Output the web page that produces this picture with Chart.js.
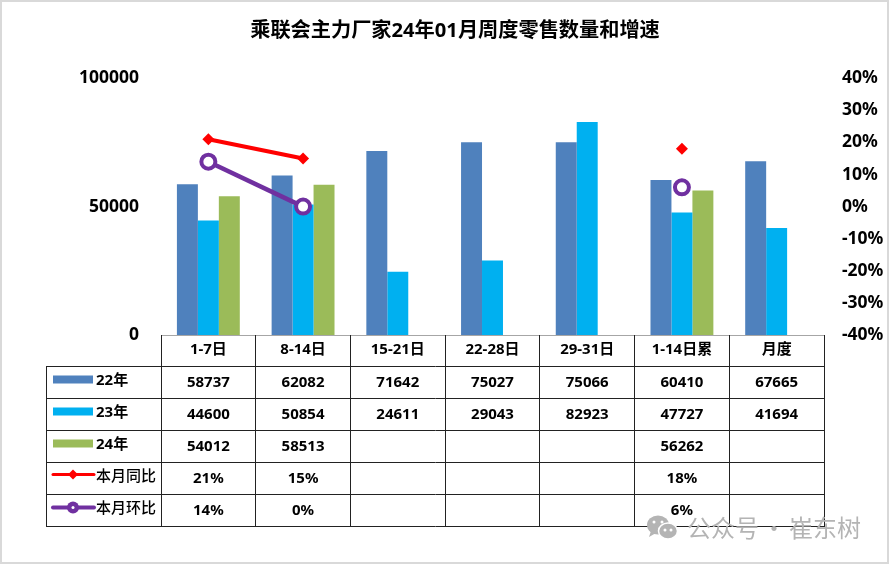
<!DOCTYPE html>
<html>
<head>
<meta charset="utf-8">
<style>
  html, body { margin: 0; padding: 0; background: #fff; }
  #wrap { position: relative; width: 889px; height: 564px; }
  canvas { display: block; }
</style>
<script src="https://cdn.jsdelivr.net/npm/chart.js@4"></script>
</head>
<body>
<div id="wrap"><canvas id="c" width="889" height="564"></canvas></div>
<script>
"use strict";

var categories = ["1-7日", "8-14日", "15-21日", "22-28日", "29-31日", "1-14日累", "月度"];
var sales22 = [58737, 62082, 71642, 75027, 75066, 60410, 67665];
var sales23 = [44600, 50854, 24611, 29043, 82923, 47727, 41694];
var sales24 = [54012, 58513, null, null, null, 56262, null];
var yoy = [21, 15, null, null, null, 18, null];
var mom = [14, 0, null, null, null, 6, null];
var leftTicks = [0, 50000, 100000];
var seriesNames = ["22年", "23年", "24年", "本月同比", "本月环比"];

var FONT = '"Noto Sans", "Noto Sans CJK SC", sans-serif';
var BLUE = "#4f81bd", CYAN = "#00b0f0", GREEN = "#9bbb59", RED = "#ff0000", PURPLE = "#7030a0";

function pct(v) { return v === null ? "" : v + "%"; }
function num(v) { return v === null ? "" : String(v); }

// table under the plot, columns follow the category axis
var tablePlugin = {
  id: "dataTable",
  afterDraw: function (chart) {
    var ctx = chart.ctx, x = chart.scales.x;
    var left = 46, top = 366, rowH = 32, colW = (x.right - x.left) / categories.length;
    var rows = [sales22.map(num), sales23.map(num), sales24.map(num), yoy.map(pct), mom.map(pct)];
    var colors = [BLUE, CYAN, GREEN, RED, PURPLE];
    var i, j;

    ctx.save();
    ctx.strokeStyle = "#222";
    ctx.lineWidth = 1;
    ctx.beginPath();
    for (i = 0; i <= rows.length; i++) {
      ctx.moveTo(left, top + i * rowH + 0.5);
      ctx.lineTo(x.right + 1, top + i * rowH + 0.5);
    }
    ctx.moveTo(left + 0.5, top);
    ctx.lineTo(left + 0.5, top + rows.length * rowH);
    for (j = 0; j <= categories.length; j++) {
      var cx = Math.floor(x.left + j * colW) + 0.5;
      ctx.moveTo(cx, x.top);
      ctx.lineTo(cx, top + rows.length * rowH);
    }
    ctx.stroke();

    ctx.textBaseline = "middle";
    ctx.fillStyle = "#000";
    for (i = 0; i < rows.length; i++) {
      var y = top + i * rowH + rowH / 2 + 0.5;
      ctx.textAlign = "center";
      ctx.font = "bold 15px " + FONT;
      for (j = 0; j < rows[i].length; j++) {
        ctx.fillText(rows[i][j], x.getPixelForTick(j), y);
      }
      // legend key
      var ky = i === 3 ? y - 4 : y - 3;
      if (i < 3) {
        ctx.fillStyle = colors[i];
        ctx.fillRect(53, ky - 4, 40, 8);
      } else {
        ctx.strokeStyle = colors[i];
        ctx.lineWidth = i === 3 ? 3 : 4;
        ctx.lineCap = "round";
        ctx.beginPath();
        ctx.moveTo(53, ky);
        ctx.lineTo(94, ky);
        ctx.stroke();
        ctx.fillStyle = colors[i];
        ctx.beginPath();
        if (i === 3) {
          ctx.moveTo(73, ky - 5); ctx.lineTo(78, ky); ctx.lineTo(73, ky + 5); ctx.lineTo(68, ky);
          ctx.closePath();
          ctx.fill();
        } else {
          ctx.arc(73, ky, 6, 0, Math.PI * 2);
          ctx.fill();
          ctx.fillStyle = "#fff";
          ctx.beginPath();
          ctx.arc(73, ky, 1.5, 0, Math.PI * 2);
          ctx.fill();
        }
      }
      ctx.fillStyle = "#000";
      ctx.textAlign = "left";
      ctx.font = (i < 3 ? "bold 15px " : "500 15px ") + FONT;
      ctx.fillText(seriesNames[i], 96, y - 2);
    }
    ctx.restore();
  }
};

var framePlugin = {
  id: "frame",
  afterDraw: function (chart) {
    var ctx = chart.ctx;
    ctx.save();
    ctx.strokeStyle = "#d9d9d9";
    ctx.lineWidth = 4;
    ctx.strokeRect(0, 0, chart.width, chart.height);
    ctx.restore();
  }
};

var watermarkPlugin = {
  id: "watermark",
  afterDraw: function (chart) {
    var ctx = chart.ctx;
    ctx.save();
    ctx.fillStyle = "#b4b4b4";
    ctx.beginPath();
    ctx.ellipse(658, 525, 11, 9.5, 0, 0, Math.PI * 2);
    ctx.fill();
    ctx.beginPath();
    ctx.moveTo(651, 531); ctx.lineTo(649, 537); ctx.lineTo(656, 533);
    ctx.fill();
    ctx.strokeStyle = "#fff";
    ctx.lineWidth = 1.5;
    ctx.beginPath();
    ctx.ellipse(668, 531, 9.5, 8, 0, 0, Math.PI * 2);
    ctx.fillStyle = "#b4b4b4";
    ctx.fill();
    ctx.stroke();
    ctx.fillStyle = "#fff";
    [[654, 522], [662, 522], [665, 530], [671, 530]].forEach(function (p) {
      ctx.beginPath();
      ctx.arc(p[0], p[1], 1.5, 0, Math.PI * 2);
      ctx.fill();
    });
    ctx.fillStyle = "#b4b4b4";
    ctx.font = '24px "Noto Sans CJK SC", sans-serif';
    ctx.wordSpacing = "-2.4px";
    ctx.textBaseline = "middle";
    ctx.textAlign = "left";
    ctx.fillText("公众号 · 崔东树", 687, 528);
    ctx.restore();
  }
};

new Chart(document.getElementById("c"), {
  data: {
    labels: categories,
    datasets: [
      { type: "line", label: seriesNames[3], data: yoy, yAxisID: "y2", order: 1, spanGaps: false,
        borderColor: RED, backgroundColor: RED, borderWidth: 4, pointStyle: "rectRot",
        pointRadius: 6, pointBorderWidth: 0, tension: 0 },
      { type: "line", label: seriesNames[4], data: mom, yAxisID: "y2", order: 0, spanGaps: false,
        borderColor: PURPLE, backgroundColor: "#fff", borderWidth: 4.5, pointStyle: "circle",
        pointRadius: 7, pointBorderWidth: 4, pointBorderColor: PURPLE, pointBackgroundColor: "#fff", tension: 0 },
      { type: "bar", label: seriesNames[0], data: sales22, yAxisID: "y", backgroundColor: BLUE, order: 2 },
      { type: "bar", label: seriesNames[1], data: sales23, yAxisID: "y", backgroundColor: CYAN, order: 3 },
      { type: "bar", label: seriesNames[2], data: sales24, yAxisID: "y", backgroundColor: GREEN, order: 4 }
    ]
  },
  plugins: [tablePlugin, watermarkPlugin, framePlugin],
  options: {
    responsive: false,
    animation: false,
    datasets: { bar: { categoryPercentage: 0.664, barPercentage: 1 } },
    layout: { padding: { left: 21, right: 0, top: 0, bottom: 0 } },
    plugins: {
      legend: { display: false },
      tooltip: { enabled: false },
      title: {
        display: true,
        text: "乘联会主力厂家24年01月周度零售数量和增速",
        color: "#000",
        font: { family: FONT, size: 20.2, weight: "bold" },
        padding: { top: 19, bottom: 35 }
      }
    },
    scales: {
      x: {
        grid: { display: false, drawTicks: false },
        border: { display: true, color: "#a6a6a6", width: 1 },
        ticks: { color: "#000", font: { family: FONT, size: 15, weight: "bold" }, padding: 6, maxRotation: 0, autoSkip: false },
        afterFit: function (s) { s.height = 229; }
      },
      y: {
        position: "left", min: 0, max: 100000,
        grid: { display: false, drawTicks: false },
        border: { display: false },
        afterBuildTicks: function (s) { s.ticks = leftTicks.map(function (v) { return { value: v }; }); },
        ticks: { color: "#000", font: { family: FONT, size: 17.5, weight: "bold" }, padding: 22,
          callback: function (v) { return String(v); } },
        afterFit: function (s) { s.width = 140; }
      },
      y2: {
        position: "right", min: -40, max: 40,
        grid: { display: false, drawTicks: false },
        border: { display: false },
        ticks: { stepSize: 10, color: "#000", font: { family: FONT, size: 17.5, weight: "bold" }, padding: 18,
          callback: function (v) { return v + "%"; } },
        afterFit: function (s) { s.width = 65; }
      }
    }
  }
});
</script>
</body>
</html>
